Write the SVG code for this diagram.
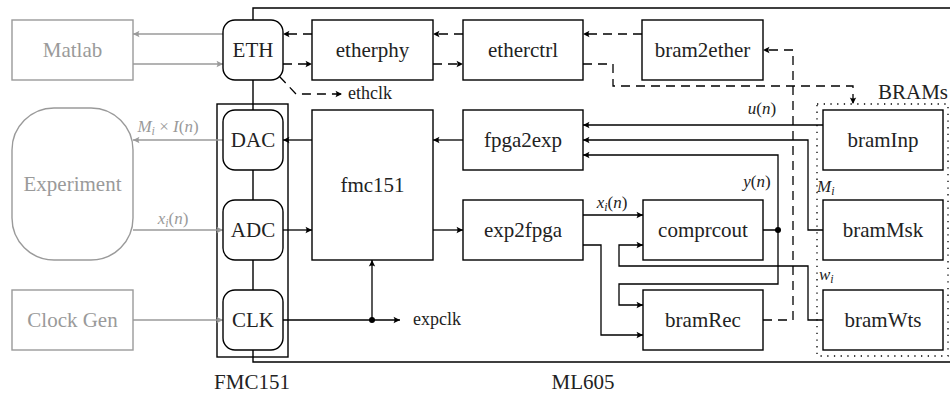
<svg xmlns="http://www.w3.org/2000/svg" width="950" height="394" viewBox="0 0 950 394">
<defs>
<style>
.lbl{font-family:"Liberation Serif","Times New Roman",serif;font-size:21px;fill:#222;text-anchor:middle;}
.glbl{font-family:"Liberation Serif","Times New Roman",serif;font-size:21px;fill:#9a9a9a;text-anchor:middle;}
.box{fill:#fff;stroke:#000;stroke-width:1.4;}
.gbox{fill:#fff;stroke:#9a9a9a;stroke-width:1.4;}
.w{fill:none;stroke:#000;stroke-width:1.3;}
.g{fill:none;stroke:#9a9a9a;stroke-width:1.3;}
.d{fill:none;stroke:#000;stroke-width:1.3;stroke-dasharray:9 6;}
.math{font-family:"Liberation Serif","Times New Roman",serif;font-size:17px;fill:#222;font-style:italic;}
.gmath{font-family:"Liberation Serif","Times New Roman",serif;font-size:17px;fill:#9a9a9a;font-style:italic;}
.up{font-style:normal;}
.small{font-family:"Liberation Serif","Times New Roman",serif;font-size:18px;fill:#222;}
</style>
<marker id="ah" viewBox="-7 -4 8 8" refX="0" refY="0" markerWidth="8" markerHeight="8" orient="auto" markerUnits="userSpaceOnUse">
<path d="M0,0 L-6.5,-3.2 Q-4.5,0 -6.5,3.2 Z" fill="#000"/>
</marker>
<marker id="gah" viewBox="-7 -4 8 8" refX="0" refY="0" markerWidth="8" markerHeight="8" orient="auto" markerUnits="userSpaceOnUse">
<path d="M0,0 L-6.5,-3.2 Q-4.5,0 -6.5,3.2 Z" fill="#9a9a9a"/>
</marker>
</defs>

<g id="ML605">
<path d="M960,8 H253 V362 H960" fill="none" stroke="#000" stroke-width="1.4"/>
<text class="lbl" x="583" y="389">ML605</text>
</g>

<g id="FMC151">
<rect x="217" y="104" width="71" height="253" fill="none" stroke="#000" stroke-width="1.4"/>
<text class="lbl" x="252" y="389">FMC151</text>
</g>

<g id="BRAMs">
<rect x="817" y="104" width="131" height="252" fill="none" stroke="#000" stroke-width="1.3" stroke-dasharray="1.3 5.4"/>
<text class="lbl" x="948" y="99" style="text-anchor:end">BRAMs</text>
</g>

<g id="connectors">
<line class="g" x1="223" y1="34" x2="133" y2="34" marker-end="url(#gah)"/>
<line class="g" x1="133" y1="64" x2="223" y2="64" marker-end="url(#gah)"/>
<line class="g" x1="223" y1="140" x2="133" y2="140" marker-end="url(#gah)"/>
<line class="g" x1="133" y1="230" x2="223" y2="230" marker-end="url(#gah)"/>
<line class="g" x1="133" y1="320" x2="223" y2="320" marker-end="url(#gah)"/>
<line class="d" x1="642" y1="34" x2="583" y2="34" marker-end="url(#ah)"/>
<line class="d" x1="463" y1="34" x2="433" y2="34" marker-end="url(#ah)"/>
<line class="d" x1="312" y1="34" x2="283" y2="34" marker-end="url(#ah)"/>
<line class="d" x1="283" y1="64" x2="312" y2="64" marker-end="url(#ah)"/>
<line class="d" x1="433" y1="64" x2="463" y2="64" marker-end="url(#ah)"/>
<path class="d" d="M583,64 H613 V86 H853 V104" marker-end="url(#ah)"/>
<path class="d" d="M763,320 H793 V50 H763" marker-end="url(#ah)"/>
<path class="d" d="M279.5,76.5 L296,94 H342" marker-end="url(#ah)"/>
<line class="w" x1="312" y1="140" x2="283" y2="140" marker-end="url(#ah)"/>
<line class="w" x1="283" y1="230" x2="312" y2="230" marker-end="url(#ah)"/>
<line class="w" x1="463" y1="140" x2="433" y2="140" marker-end="url(#ah)"/>
<line class="w" x1="433" y1="230" x2="463" y2="230" marker-end="url(#ah)"/>
<line class="w" x1="283" y1="320" x2="400" y2="320" marker-end="url(#ah)"/>
<line class="w" x1="372" y1="320" x2="372" y2="260" marker-end="url(#ah)"/>
<circle cx="372" cy="320" r="3" fill="#000"/>
<line class="w" x1="583" y1="215" x2="643" y2="215" marker-end="url(#ah)"/>
<path class="w" d="M583,245 H601 V335 H643" marker-end="url(#ah)"/>
<path class="w" d="M823,320 H808 V266 H619 V245 H643" marker-end="url(#ah)"/>
<path class="w" d="M763,230 H778 V155 H583" marker-end="url(#ah)"/>
<path class="w" d="M778,230 V284 H619 V305 H643" marker-end="url(#ah)"/>
<circle cx="778" cy="230" r="3" fill="#000"/>
<line class="w" x1="823" y1="125" x2="583" y2="125" marker-end="url(#ah)"/>
<path class="w" d="M823,230 H808 V140 H583" marker-end="url(#ah)"/>
<text class="gmath" x="168" y="132" text-anchor="middle">M<tspan font-size="12" dy="3">i</tspan><tspan class="up" dy="-3"> × </tspan>I<tspan class="up">(</tspan>n<tspan class="up">)</tspan></text>
<text class="gmath" x="173" y="224" text-anchor="middle">x<tspan font-size="12" dy="3">i</tspan><tspan class="up" dy="-3">(</tspan>n<tspan class="up">)</tspan></text>
<text class="math" x="612" y="208" text-anchor="middle">x<tspan font-size="12" dy="3">i</tspan><tspan class="up" dy="-3">(</tspan>n<tspan class="up">)</tspan></text>
<text class="math" x="762" y="114" text-anchor="middle">u<tspan class="up">(</tspan>n<tspan class="up">)</tspan></text>
<text class="math" x="757" y="187" text-anchor="middle">y<tspan class="up">(</tspan>n<tspan class="up">)</tspan></text>
<text class="math" x="817" y="192">M<tspan font-size="12" dy="3">i</tspan></text>
<text class="math" x="819" y="280">w<tspan font-size="12" dy="3">i</tspan></text>
<text class="small" x="348" y="99">ethclk</text>
<text class="small" x="413" y="325">expclk</text>
</g>

<g id="Matlab"><rect class="gbox" x="12" y="20" width="121" height="60"/><text class="glbl" x="72.5" y="57">Matlab</text></g>
<g id="Experiment"><rect class="gbox" x="12" y="108" width="121" height="152" rx="42" ry="42"/><text class="glbl" x="72.5" y="191">Experiment</text></g>
<g id="ClockGen"><rect class="gbox" x="12" y="290" width="121" height="60"/><text class="glbl" x="72.5" y="327">Clock Gen</text></g>

<g id="ETH"><rect class="box" x="223" y="20" width="60" height="60" rx="12"/><text class="lbl" x="253" y="57">ETH</text></g>
<g id="DAC"><rect class="box" x="223" y="110" width="60" height="60" rx="12"/><text class="lbl" x="253" y="147">DAC</text></g>
<g id="ADC"><rect class="box" x="223" y="200" width="60" height="60" rx="12"/><text class="lbl" x="253" y="237">ADC</text></g>
<g id="CLK"><rect class="box" x="223" y="290" width="60" height="60" rx="12"/><text class="lbl" x="253" y="327">CLK</text></g>

<g id="etherphy"><rect class="box" x="312" y="20" width="121" height="60"/><text class="lbl" x="372.5" y="57">etherphy</text></g>
<g id="etherctrl"><rect class="box" x="463" y="20" width="120" height="60"/><text class="lbl" x="523" y="57">etherctrl</text></g>
<g id="bram2ether"><rect class="box" x="642" y="20" width="121" height="60"/><text class="lbl" x="702.5" y="57">bram2ether</text></g>

<g id="fmc151"><rect class="box" x="312" y="110" width="121" height="150"/><text class="lbl" x="372.5" y="192">fmc151</text></g>
<g id="fpga2exp"><rect class="box" x="463" y="110" width="120" height="60"/><text class="lbl" x="523" y="147">fpga2exp</text></g>
<g id="exp2fpga"><rect class="box" x="463" y="200" width="120" height="60"/><text class="lbl" x="523" y="237">exp2fpga</text></g>
<g id="comprcout"><rect class="box" x="643" y="200" width="120" height="60"/><text class="lbl" x="703" y="237">comprcout</text></g>
<g id="bramRec"><rect class="box" x="643" y="290" width="120" height="60"/><text class="lbl" x="703" y="327">bramRec</text></g>
<g id="bramInp"><rect class="box" x="823" y="110" width="120" height="60"/><text class="lbl" x="883" y="147">bramInp</text></g>
<g id="bramMsk"><rect class="box" x="823" y="200" width="120" height="60"/><text class="lbl" x="883" y="237">bramMsk</text></g>
<g id="bramWts"><rect class="box" x="823" y="290" width="120" height="60"/><text class="lbl" x="883" y="327">bramWts</text></g>
</svg>
